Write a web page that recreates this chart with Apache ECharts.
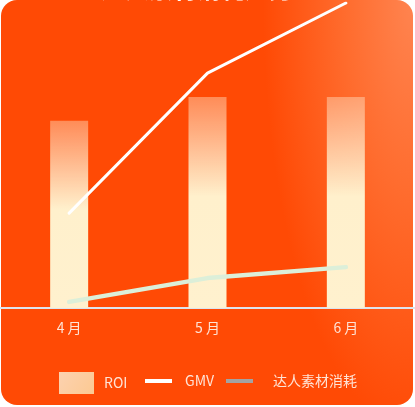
<!DOCTYPE html>
<html>
<head>
<meta charset="utf-8">
<script src="https://cdn.jsdelivr.net/npm/echarts@6/dist/echarts.min.js"></script>
<style>
  html,body{margin:0;padding:0;background:#fff;}
  #wrap{position:relative;width:415px;height:407px;overflow:hidden;}
  #bg{position:absolute;left:1px;top:0;width:412px;height:405px;border-radius:16px;
    background:radial-gradient(ellipse 150px 430px at 100% 0%, #ff8450 0%, #ff6c2e 45%, #ff4a05 100%);
    background-color:#ff4a05;}
  #chart{position:absolute;left:0;top:0;width:415px;height:407px;}
</style>
</head>
<body>
<div id="wrap">
  <div id="bg"></div>
  <div id="chart"></div>
</div>
<script>
// 数据
var months = ['4月', '5月', '6月'];
var roiData = [3.07, 3.46, 3.46];
var gmvData = [31.1, 77.0, 100];
var costData = [2.0, 9.8, 13.4];

var chart = echarts.init(document.getElementById('chart'));
var legendText = {
  color: '#ffe3d6',
  fontSize: 14,
  fontFamily: 'Noto Sans CJK SC'
};
var option = {
  backgroundColor: 'transparent',
  title: {
    text: '达人素材消耗趋势',
    left: 96,
    top: -28,
    textStyle: {color: '#fff', fontSize: 24, fontWeight: 'bold', fontFamily: 'Noto Sans CJK SC'}
  },
  legend: [{
    left: 54,
    top: 367,
    itemWidth: 35,
    itemHeight: 22,
    data: [{name: 'ROI', icon: 'rect', itemStyle: {
      color: {
        type: 'linear', x: 0, y: 0, x2: 1, y2: 1,
        colorStops: [{offset: 0, color: '#fcd2b0'}, {offset: 1, color: '#fcc992'}]
      }
    }}],
    textStyle: Object.assign({padding: [0, 0, 0, 5]}, legendText)
  }, {
    left: 140,
    top: 369,
    itemWidth: 27,
    itemHeight: 4,
    data: [{name: 'GMV', icon: 'rect', itemStyle: {color: '#ffffff'}}],
    textStyle: Object.assign({padding: [5, 0, 0, 8]}, legendText)
  }, {
    left: 221,
    top: 369,
    itemWidth: 27,
    itemHeight: 4,
    data: [{name: '达人素材消耗', icon: 'rect', itemStyle: {color: '#a3a3a3'}}],
    textStyle: Object.assign({padding: [5, 0, 0, 15]}, legendText)
  }],
  grid: {
    left: 0,
    right: 0,
    top: 3,
    bottom: 99
  },
  xAxis: {
    type: 'category',
    boundaryGap: true,
    data: months,
    axisTick: {show: false},
    axisLine: {
      lineStyle: {color: '#dde4ee', width: 2}
    },
    axisLabel: {
      margin: 13,
      color: '#ffe3d6',
      fontSize: 14,
      fontFamily: 'Noto Sans CJK SC',
      formatter: function (v) { return v.replace('月', ' 月'); }
    }
  },
  yAxis: [
    {type: 'value', min: 0, max: 5, show: false},
    {type: 'value', min: 0, max: 100, show: false}
  ],
  series: [{
    name: 'ROI',
    type: 'bar',
    yAxisIndex: 0,
    barWidth: 38,
    data: roiData,
    itemStyle: {
      color: {
        type: 'linear',
        x: 0, y: 0, x2: 0, y2: 1,
        colorStops: [
          {offset: 0, color: 'rgba(255,232,204,0.42)'},
          {offset: 0.47, color: 'rgba(255,240,204,1)'},
          {offset: 1, color: 'rgba(255,241,206,1)'}
        ]
      }
    }
  }, {
    name: 'GMV',
    type: 'line',
    yAxisIndex: 1,
    symbol: 'none',
    clip: false,
    data: gmvData,
    itemStyle: {color: '#ffffff'},
    lineStyle: {color: '#ffffff', width: 3, cap: 'round', join: 'round'}
  }, {
    name: '达人素材消耗',
    type: 'line',
    yAxisIndex: 1,
    symbol: 'none',
    clip: false,
    data: costData,
    itemStyle: {color: '#a3a3a3'},
    lineStyle: {color: '#dcefd9', width: 4.5, cap: 'round', join: 'round'}
  }]
};
chart.setOption(option);
</script>
</body>
</html>
